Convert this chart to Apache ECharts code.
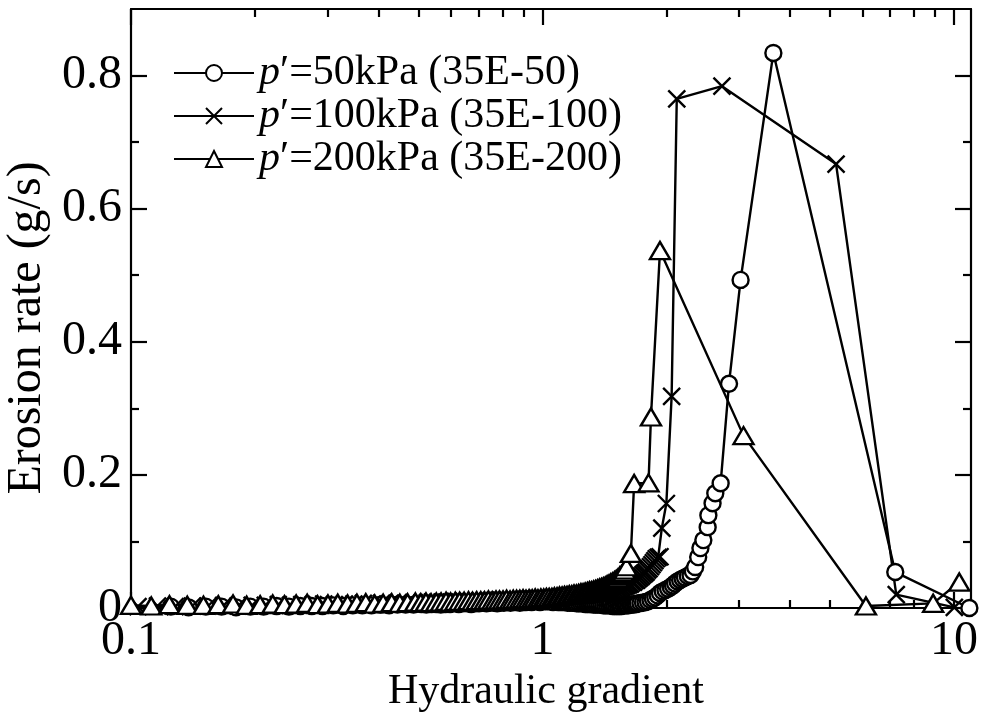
<!DOCTYPE html>
<html>
<head>
<meta charset="utf-8">
<script src="https://cdn.jsdelivr.net/npm/echarts@6/dist/echarts.min.js"></script>
<style>
  html, body { margin: 0; padding: 0; background: #fff; }
  #chart { width: 981px; height: 719px; }
</style>
</head>
<body>
<div id="chart"></div>
<script>
// Erosion rate vs. hydraulic gradient, three confining pressures.
// Each point: [hydraulic gradient, erosion rate (g/s)]

const seriesNames = ['p′=50kPa (35E-50)', 'p′=100kPa (35E-100)', 'p′=200kPa (35E-200)'];

const test50 = [
  [0.125,0.002],[0.138,0.001],[0.152,0.002],[0.166,0.002],[0.180,0.001],[0.195,0.002],[0.210,0.002],
  [0.226,0.003],[0.242,0.002],[0.258,0.003],[0.275,0.003],[0.292,0.003],[0.310,0.004],[0.328,0.003],
  [0.346,0.004],[0.365,0.004],[0.384,0.004],[0.404,0.005],[0.424,0.004],[0.444,0.005],[0.465,0.005],
  [0.486,0.005],
  [0.508,0.006],[0.522,0.005],[0.537,0.006],[0.552,0.006],[0.566,0.005],[0.581,0.006],[0.596,0.006],
  [0.611,0.007],[0.626,0.006],[0.641,0.007],[0.656,0.007],[0.671,0.006],[0.686,0.007],[0.701,0.007],
  [0.716,0.008],[0.731,0.007],[0.746,0.008],[0.761,0.008],[0.776,0.007],[0.791,0.008],[0.806,0.008],
  [0.821,0.009],[0.836,0.008],[0.851,0.009],[0.866,0.009],[0.881,0.008],[0.896,0.009],[0.911,0.009],
  [0.926,0.010],[0.941,0.009],[0.956,0.010],[0.971,0.010],[0.986,0.009],[1.001,0.010],[1.016,0.010],
  [1.031,0.010],[1.046,0.010],[1.061,0.009],[1.076,0.010],[1.091,0.009],[1.106,0.009],[1.121,0.009],
  [1.136,0.009],[1.151,0.008],[1.166,0.008],[1.181,0.008],[1.196,0.008],[1.211,0.007],[1.226,0.007],
  [1.241,0.007],[1.256,0.007],[1.271,0.006],[1.286,0.006],[1.301,0.006],[1.316,0.006],[1.331,0.005],
  [1.346,0.005],[1.361,0.005],[1.376,0.005],[1.391,0.005],[1.406,0.004],[1.421,0.004],[1.436,0.004],
  [1.451,0.004],[1.466,0.004],[1.481,0.003],[1.496,0.003],[1.511,0.003],[1.526,0.003],[1.541,0.003],
  [1.556,0.003],[1.571,0.004],[1.586,0.004],[1.601,0.004],[1.616,0.004],[1.631,0.005],[1.646,0.005],
  [1.661,0.005],[1.676,0.006],[1.691,0.006],[1.706,0.007],[1.730,0.0075],[1.755,0.008],[1.780,0.009],
  [1.805,0.010],[1.830,0.012],[1.855,0.014],[1.880,0.016],[1.905,0.019],[1.930,0.0225],[1.960,0.025],
  [1.990,0.027],[2.020,0.029],[2.050,0.0315],[2.075,0.034],[2.100,0.037],[2.130,0.040],[2.160,0.042],
  [2.190,0.044],[2.220,0.046],[2.255,0.048],[2.290,0.0495],[2.320,0.055],[2.350,0.0615],[2.390,0.0765],
  [2.420,0.090],[2.460,0.102],[2.520,0.1215],[2.530,0.1395],[2.590,0.1575],[2.630,0.1725],[2.710,0.1875],
  [2.840,0.337],[3.030,0.493],[3.640,0.834],[7.200,0.054],[10.90,0.000]
];

const test100 = [
  [0.104,0.002],[0.116,0.003],[0.128,0.002],[0.141,0.003],[0.154,0.003],[0.168,0.004],[0.182,0.003],
  [0.197,0.004],[0.212,0.004],[0.228,0.005],[0.244,0.004],[0.260,0.005],[0.277,0.005],[0.294,0.006],
  [0.312,0.005],[0.330,0.006],[0.348,0.006],[0.367,0.007],[0.386,0.006],[0.406,0.007],[0.426,0.007],
  [0.446,0.008],[0.467,0.007],[0.488,0.008],
  [0.510,0.008],[0.525,0.008],[0.540,0.009],[0.555,0.008],[0.570,0.009],[0.585,0.009],[0.600,0.009],
  [0.615,0.010],[0.630,0.009],[0.645,0.010],[0.660,0.010],[0.675,0.010],[0.690,0.010],[0.705,0.011],
  [0.720,0.011],[0.735,0.010],[0.750,0.011],[0.765,0.011],[0.780,0.011],[0.795,0.012],[0.810,0.011],
  [0.825,0.012],[0.840,0.012],[0.855,0.012],[0.870,0.012],[0.885,0.013],[0.900,0.012],[0.915,0.013],
  [0.930,0.013],[0.945,0.013],[0.960,0.013],[0.975,0.014],[0.990,0.013],[1.005,0.014],[1.020,0.014],
  [1.035,0.014],[1.050,0.015],[1.065,0.015],[1.080,0.015],[1.095,0.015],[1.110,0.016],[1.125,0.016],
  [1.140,0.016],[1.155,0.017],[1.170,0.017],[1.185,0.017],[1.200,0.018],[1.215,0.018],[1.230,0.018],
  [1.245,0.019],[1.260,0.019],[1.275,0.019],[1.290,0.020],[1.305,0.020],[1.320,0.021],[1.335,0.021],
  [1.350,0.022],[1.365,0.022],[1.380,0.023],[1.395,0.023],[1.410,0.024],[1.425,0.024],[1.440,0.025],
  [1.455,0.026],[1.470,0.026],[1.485,0.027],[1.500,0.028],[1.515,0.029],[1.530,0.029],[1.545,0.030],
  [1.560,0.031],[1.575,0.032],[1.590,0.033],[1.605,0.034],[1.620,0.035],[1.635,0.036],[1.650,0.038],
  [1.665,0.039],[1.680,0.041],[1.695,0.042],[1.710,0.044],[1.725,0.046],[1.740,0.048],[1.755,0.050],
  [1.770,0.052],[1.785,0.054],[1.800,0.057],[1.815,0.059],[1.830,0.062],[1.845,0.065],[1.860,0.068],
  [1.875,0.071],[1.890,0.074],[1.910,0.076],[1.930,0.077],[1.950,0.120],[2.000,0.157],[2.060,0.318],
  [2.120,0.765],[2.730,0.784],[5.170,0.667],[7.240,0.020],[10.02,0.001]
];

const test200 = [
  [0.100,0.004],[0.112,0.003],[0.124,0.005],[0.137,0.004],[0.150,0.004],[0.163,0.005],[0.177,0.006],
  [0.191,0.004],[0.206,0.005],[0.221,0.006],[0.236,0.005],[0.252,0.006],[0.268,0.007],[0.284,0.005],
  [0.301,0.006],[0.318,0.007],[0.336,0.006],[0.354,0.007],[0.372,0.008],[0.391,0.006],[0.410,0.007],
  [0.430,0.008],[0.450,0.007],[0.470,0.008],[0.491,0.009],
  [0.506,0.008],[0.521,0.009],[0.536,0.008],[0.552,0.009],[0.567,0.009],[0.583,0.010],[0.598,0.009],
  [0.614,0.010],[0.629,0.010],[0.645,0.010],[0.661,0.011],[0.676,0.010],[0.692,0.011],[0.708,0.011],
  [0.723,0.011],[0.739,0.012],[0.755,0.011],[0.771,0.012],[0.786,0.012],[0.802,0.012],[0.818,0.013],
  [0.834,0.012],[0.849,0.013],[0.865,0.013],[0.881,0.013],[0.897,0.014],[0.912,0.013],[0.928,0.014],
  [0.944,0.014],[0.960,0.015],[0.975,0.014],[0.991,0.015],[1.007,0.015],[1.022,0.016],[1.038,0.016],
  [1.054,0.016],[1.069,0.017],[1.085,0.017],[1.100,0.018],[1.116,0.018],[1.131,0.019],[1.147,0.019],
  [1.162,0.020],[1.178,0.020],[1.193,0.021],[1.209,0.021],[1.224,0.022],[1.240,0.023],[1.255,0.023],
  [1.270,0.024],[1.286,0.025],[1.301,0.026],[1.316,0.026],[1.331,0.027],[1.346,0.028],[1.361,0.029],
  [1.376,0.030],[1.391,0.031],[1.406,0.032],[1.421,0.033],[1.436,0.035],[1.451,0.036],[1.466,0.038],
  [1.481,0.039],[1.496,0.041],[1.511,0.043],[1.526,0.045],[1.541,0.048],[1.556,0.050],[1.571,0.053],
  [1.586,0.057],[1.600,0.062],[1.640,0.082],[1.670,0.187],[1.810,0.188],[1.835,0.287],[1.930,0.537],
  [3.080,0.259],[6.110,0.003],[8.900,0.007],[10.30,0.039]
];

// Axis ticks
const xMajorTicks = [0.1, 1, 10];
const xMinorTicks = [0.2, 0.3, 0.4, 0.5, 0.6, 0.7, 0.8, 0.9, 2, 3, 4, 5, 6, 7, 8, 9];
const yMajorTicks = [0, 0.2, 0.4, 0.6, 0.8];
const yMinorTicks = [0.1, 0.3, 0.5, 0.7];

const FONT = '"Liberation Serif", "Times New Roman", serif';
const INK = '#000';
const STROKE = 2.4;

function xAxisDef(position, ticks, len, showLine, showLabel) {
  return {
    type: 'log', logBase: 10, min: 0.1, max: 11, position: position,
    axisLine: { show: showLine, onZero: false, lineStyle: { color: INK, width: 2.2 } },
    axisTick: { show: true, inside: true, length: len, customValues: ticks, lineStyle: { color: INK, width: 2.2 } },
    axisLabel: {
      show: showLabel, customValues: ticks, margin: 9, color: INK,
      fontFamily: FONT, fontSize: 48,
      formatter: v => String(v)
    },
    splitLine: { show: false }, minorTick: { show: false }
  };
}
function yAxisDef(position, ticks, len, showLine, showLabel) {
  return {
    type: 'value', min: 0, max: 0.9, position: position,
    axisLine: { show: showLine, onZero: false, lineStyle: { color: INK, width: 2.2 } },
    axisTick: { show: true, inside: true, length: len, customValues: ticks, lineStyle: { color: INK, width: 2.2 } },
    axisLabel: {
      show: showLabel, customValues: ticks, margin: 9, color: INK,
      fontFamily: FONT, fontSize: 48,
      formatter: v => (v === 0 ? '0' : v.toFixed(1))
    },
    splitLine: { show: false }
  };
}

const crossPath = 'path://M0,0L10,10M10,0L0,10';

function makeSeries(name, data, symbol, size) {
  return {
    name: name, type: 'line', data: data,
    symbol: symbol, symbolSize: size, showAllSymbol: true, clip: false,
    lineStyle: { color: INK, width: STROKE },
    itemStyle: { color: '#fff', borderColor: INK, borderWidth: STROKE },
    emphasis: { disabled: true }
  };
}

const chart = echarts.init(document.getElementById('chart'), null, { renderer: 'canvas' });
chart.setOption({
  animation: false,
  backgroundColor: '#fff',
  grid: { left: 131, right: 10, top: 9, bottom: 111, containLabel: false },
  xAxis: [
    xAxisDef('bottom', xMajorTicks, 16, true, true),
    xAxisDef('bottom', xMinorTicks, 8, false, false),
    xAxisDef('top', xMajorTicks, 16, true, false),
    xAxisDef('top', xMinorTicks, 8, false, false)
  ],
  yAxis: [
    yAxisDef('left', yMajorTicks, 16, true, true),
    yAxisDef('left', yMinorTicks, 8, false, false),
    yAxisDef('right', yMajorTicks, 16, true, false),
    yAxisDef('right', yMinorTicks, 8, false, false)
  ],
  legend: {
    orient: 'vertical', left: 173, top: 52, padding: 0,
    itemWidth: 80, itemHeight: 20, itemGap: 1,
    data: seriesNames,
    formatter: name => '{i|p}' + name.slice(1),
    textStyle: {
      fontFamily: FONT, fontSize: 42, color: INK, lineHeight: 42,
      rich: { i: { fontFamily: FONT, fontSize: 42, fontStyle: 'italic', color: INK, lineHeight: 42 } }
    }
  },
  series: [
    makeSeries(seriesNames[0], test50, 'circle', 16),
    makeSeries(seriesNames[1], test100, crossPath, 17),
    makeSeries(seriesNames[2], test200, 'triangle', [20, 17])
  ],
  graphic: [
    {
      type: 'text', x: 546, y: 692, silent: true,
      style: { text: 'Hydraulic gradient', font: '42px ' + FONT, fill: INK, align: 'center', verticalAlign: 'middle' }
    },
    {
      type: 'text', x: 27, y: 328, rotation: Math.PI / 2, silent: true,
      style: { text: 'Erosion rate (g/s)', font: '48px ' + FONT, fill: INK, align: 'center', verticalAlign: 'middle' }
    }
  ]
});
</script>
</body>
</html>
